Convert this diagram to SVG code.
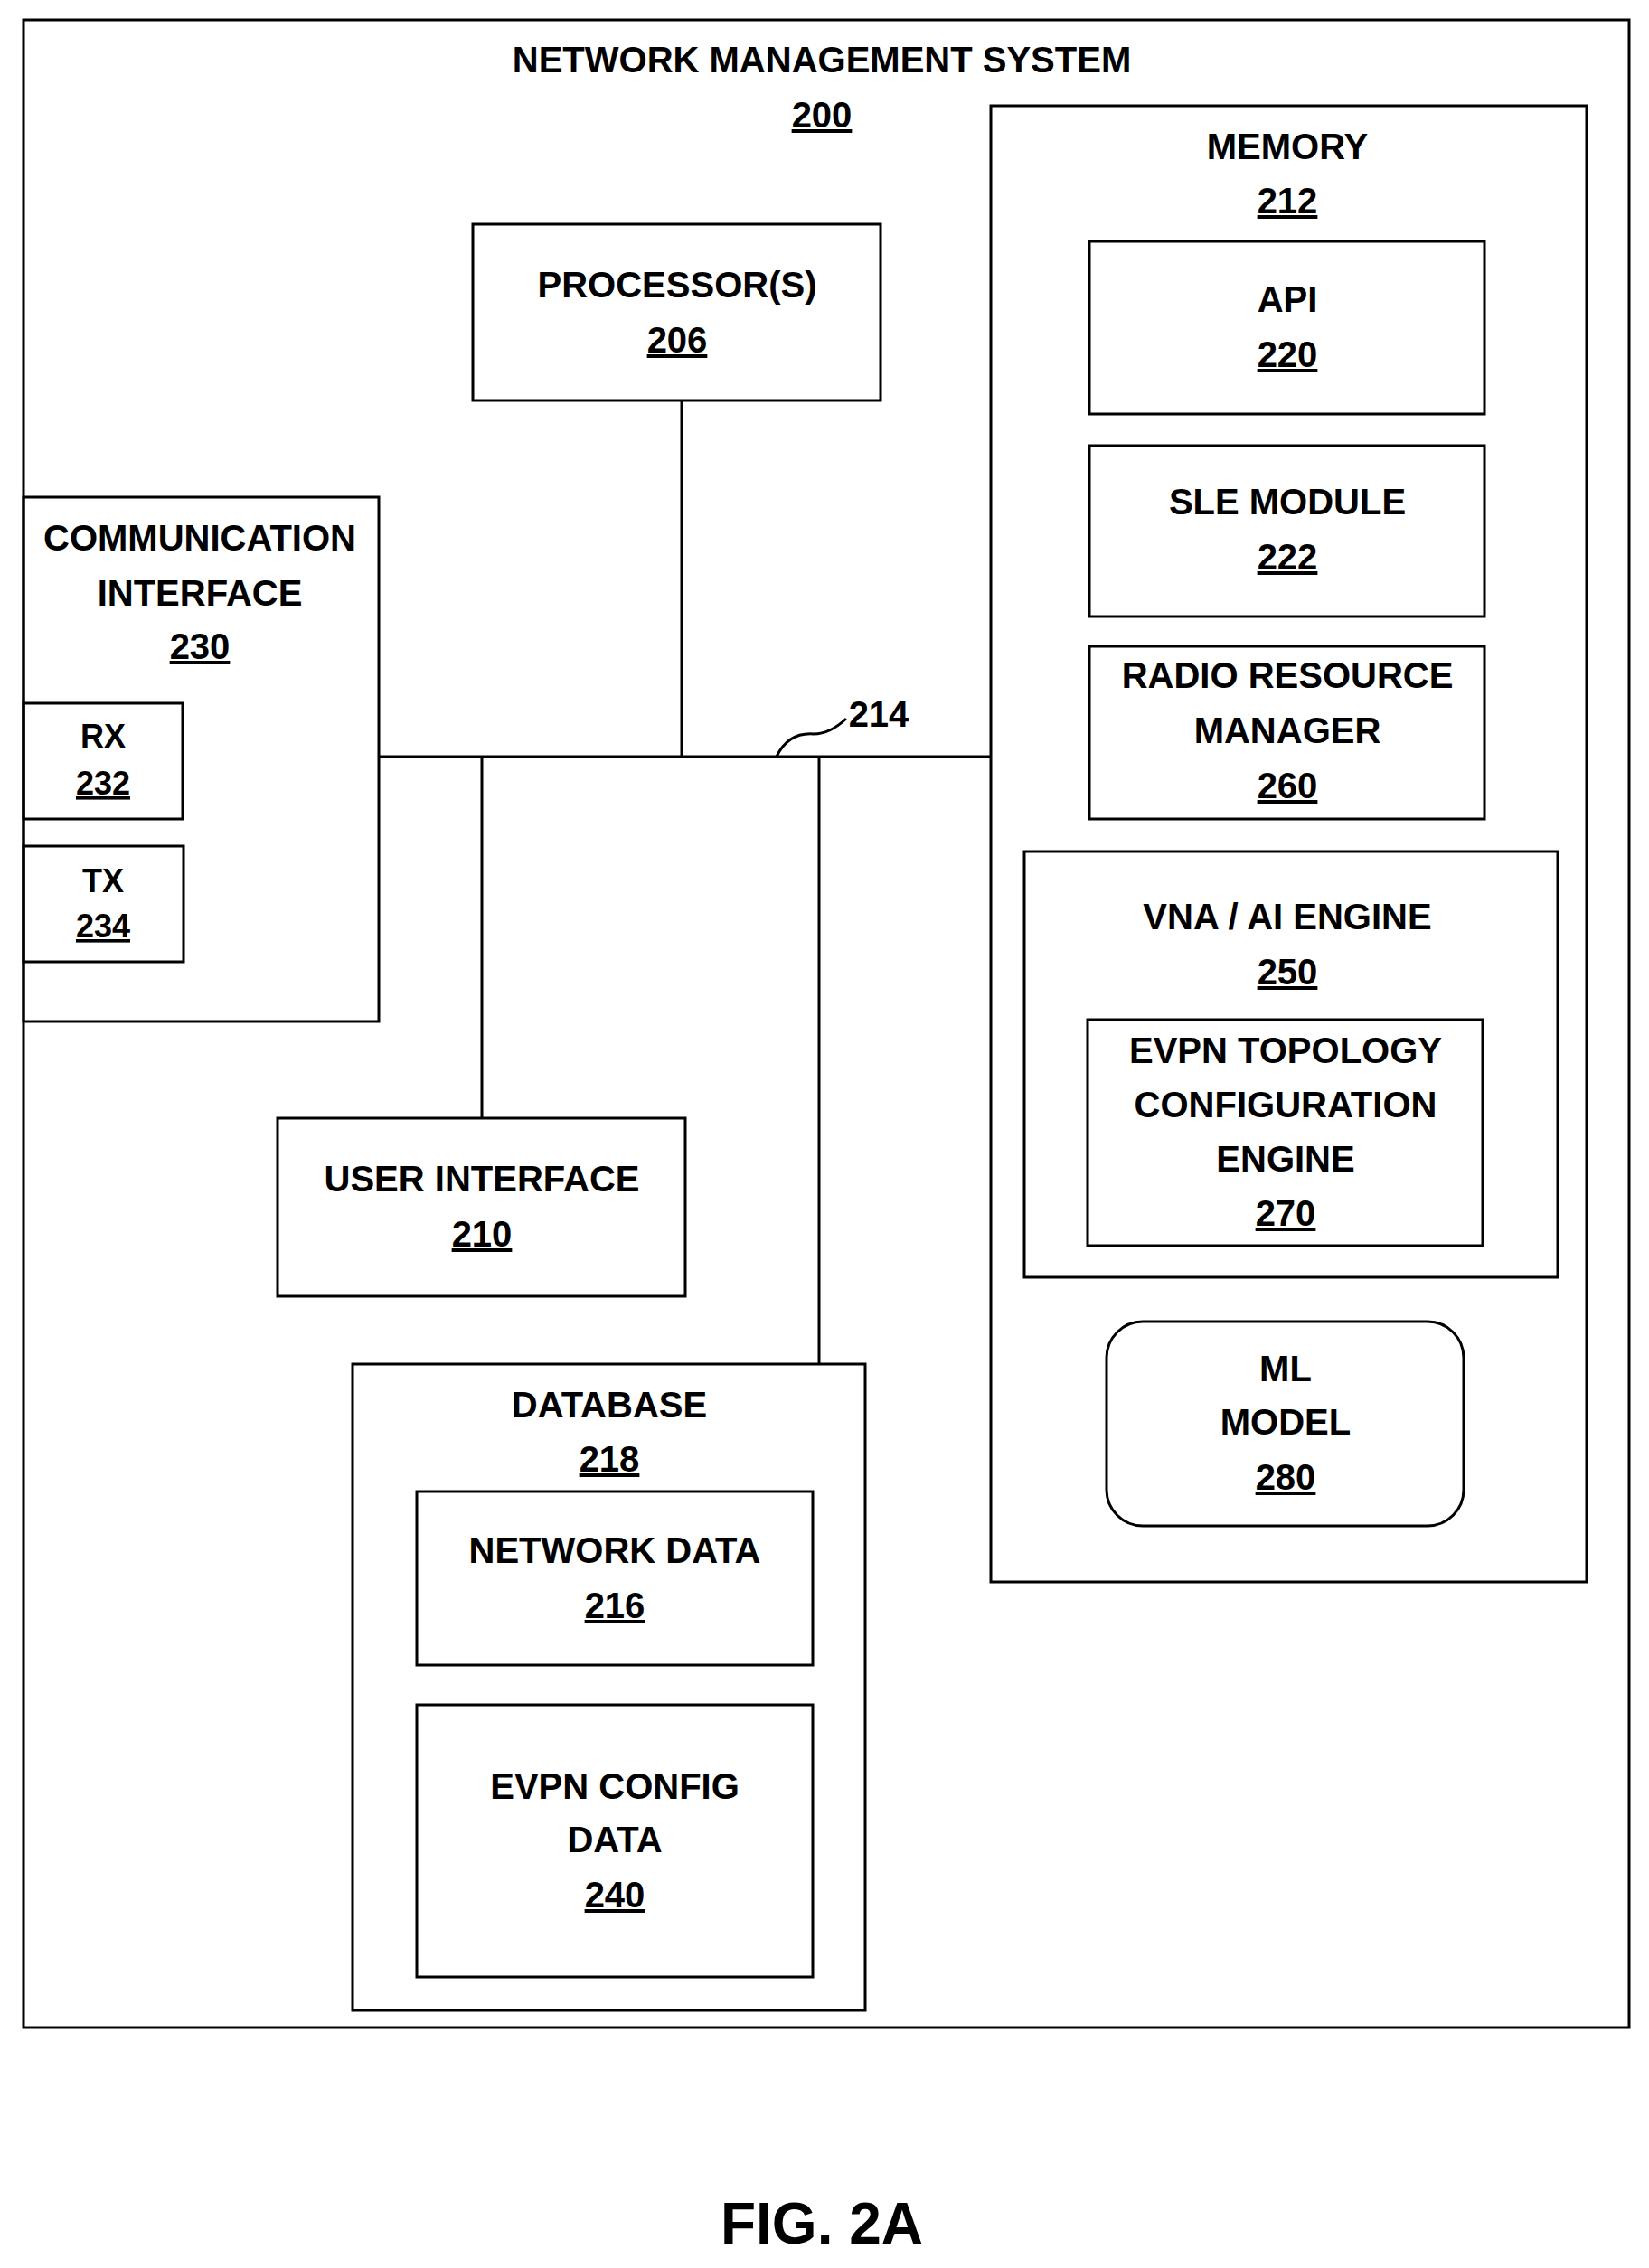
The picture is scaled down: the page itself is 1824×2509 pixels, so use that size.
<svg xmlns="http://www.w3.org/2000/svg" width="1824" height="2509" viewBox="0 0 1824 2509">
<style>
rect{fill:none;stroke:#000;stroke-width:3}
line,path{fill:none;stroke:#000;stroke-width:3}
text{font-family:"Liberation Sans",Arial,sans-serif;font-weight:bold;font-size:40px;text-anchor:middle;fill:#000}
.n{text-decoration:underline}
.s{font-size:36px}
</style>
<rect width="1824" height="2509" style="fill:#fff;stroke:none"/>
<g id="nms"><rect x="26" y="22" width="1776" height="2221"/>
<text x="909" y="80">NETWORK MANAGEMENT SYSTEM</text><text class="n" x="909" y="141">200</text></g>
<g id="connectors">
<line x1="419" y1="837" x2="1096" y2="837"/>
<line x1="754" y1="443" x2="754" y2="837"/>
<line x1="533" y1="837" x2="533" y2="1237"/>
<line x1="906" y1="837" x2="906" y2="1509"/>
<path d="M859 837 Q872 810 900 812 Q918 812 936 795"/>
<text x="972" y="804">214</text>
</g>
<g id="memory"><rect x="1096" y="117" width="659" height="1633"/>
<text x="1424" y="176">MEMORY</text><text class="n" x="1424" y="236">212</text></g>
<g id="api"><rect x="1205" y="267" width="437" height="191"/>
<text x="1424" y="345">API</text><text class="n" x="1424" y="406">220</text></g>
<g id="sle"><rect x="1205" y="493" width="437" height="189"/>
<text x="1424" y="569">SLE MODULE</text><text class="n" x="1424" y="630">222</text></g>
<g id="rrm"><rect x="1205" y="715" width="437" height="191"/>
<text x="1424" y="761">RADIO RESOURCE</text><text x="1424" y="822">MANAGER</text><text class="n" x="1424" y="883">260</text></g>
<g id="vna"><rect x="1133" y="942" width="590" height="471"/>
<text x="1424" y="1028">VNA / AI ENGINE</text><text class="n" x="1424" y="1089">250</text></g>
<g id="evpntopo"><rect x="1203" y="1128" width="437" height="250"/>
<text x="1422" y="1176">EVPN TOPOLOGY</text><text x="1422" y="1236">CONFIGURATION</text><text x="1422" y="1296">ENGINE</text><text class="n" x="1422" y="1356">270</text></g>
<g id="ml"><rect x="1224" y="1462" width="395" height="226" rx="40"/>
<text x="1422" y="1528">ML</text><text x="1422" y="1587">MODEL</text><text class="n" x="1422" y="1648">280</text></g>
<g id="proc"><rect x="523" y="248" width="451" height="195"/>
<text x="749" y="329">PROCESSOR(S)</text><text class="n" x="749" y="390">206</text></g>
<g id="comm"><rect x="26" y="550" width="393" height="580"/>
<text x="221" y="609">COMMUNICATION</text><text x="221" y="670">INTERFACE</text><text class="n" x="221" y="729">230</text></g>
<g id="rx"><rect x="26" y="778" width="176" height="128"/>
<text class="s" x="114" y="827">RX</text><text class="s n" x="114" y="879">232</text></g>
<g id="tx"><rect x="26" y="936" width="177" height="128"/>
<text class="s" x="114" y="987">TX</text><text class="s n" x="114" y="1037">234</text></g>
<g id="ui"><rect x="307" y="1237" width="451" height="197"/>
<text x="533" y="1318">USER INTERFACE</text><text class="n" x="533" y="1379">210</text></g>
<g id="db"><rect x="390" y="1509" width="567" height="715"/>
<text x="674" y="1568">DATABASE</text><text class="n" x="674" y="1628">218</text></g>
<g id="netdata"><rect x="461" y="1650" width="438" height="192"/>
<text x="680" y="1729">NETWORK DATA</text><text class="n" x="680" y="1790">216</text></g>
<g id="evpncfg"><rect x="461" y="1886" width="438" height="301"/>
<text x="680" y="1990">EVPN CONFIG</text><text x="680" y="2049">DATA</text><text class="n" x="680" y="2110">240</text></g>
<text x="909" y="2482" style="font-size:64px">FIG. 2A</text>
</svg>
